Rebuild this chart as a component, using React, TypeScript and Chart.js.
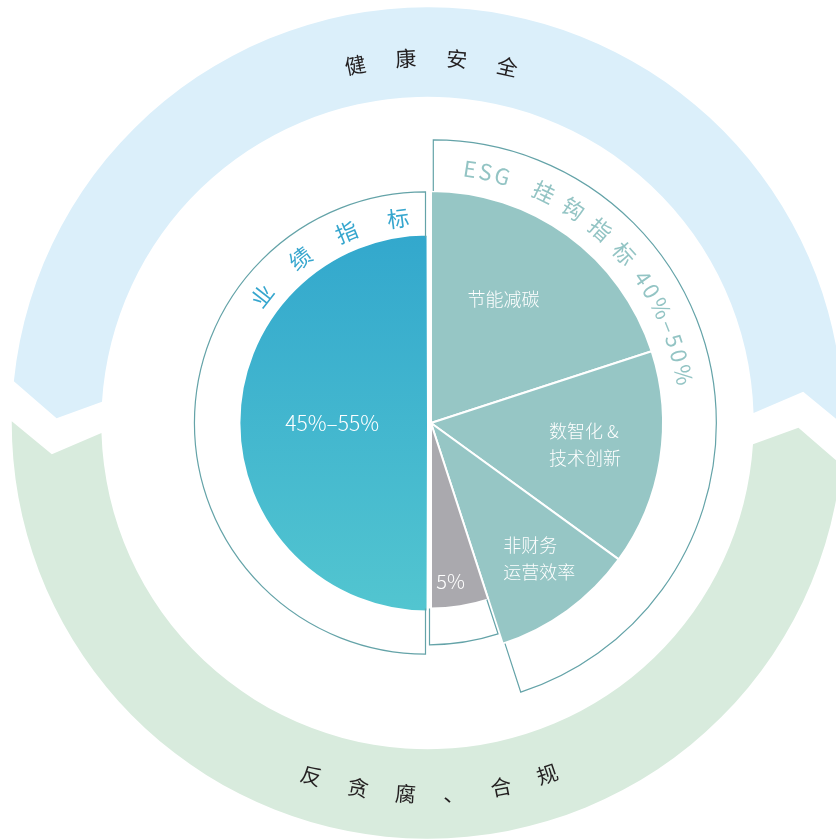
import { useEffect, useRef } from 'react';
import { Chart, registerables } from 'chart.js';

Chart.register(...registerables);

// ---------- data ----------
const sliceLabels = ['45%–55%', '节能减碳', '数智化 &\n技术创新', '非财务\n运营效率', '5%'];
const sliceShares = [50, 20, 15, 10, 5];
const sliceDepth = [4, 5, 5, 5, 4];
const performanceTitle = '业绩指标';
const esgTitleParts = ['ESG', '挂钩指标', '40%–50%'];
const ringLabels = ['健康安全', '反贪腐、合规'];
const ringShares = [50, 50];

// ---------- styles / layout ----------
const W = 836;
const H = 840;
const UNIT_PX = 46.4;
const SCALE_MAX = 405 / UNIT_PX;
const SLICE_COLORS = ['#3fb5cf', '#96c6c5', '#96c6c5', '#96c6c5', '#aaa9ae'];
const SLICE_OFFSET = [12, 0, 0, 0, 0];
const BLUE_TOP = '#33a8cd';
const BLUE_BOTTOM = '#52c5d0';
const OUTLINE_COLOR = '#64a3a8';
const BLUE_TEXT = '#36a6ce';
const ESG_TEXT = '#93c4c4';
const RING_COLORS = ['#dbeffa', '#d8ebdd'];
const RING_TEXT = '#231f20';
const FONT = '"Noto Sans CJK SC", "Noto Sans", sans-serif';
const RING_SHIFT_X = -3.5;
const RING_INNER = 7.03;
const RING_OUTER = 8.96;
const RING_ROTATION = 272;
const RING_GAP = 5.5;
const ARROW_DEPTH = 4;
const ARROW_TILT = 2;
const RING_TEXT_LEVEL = [7.87, 8.0];
const RING_TEXT_CENTER = [0.6, 179.7];
const RING_TEXT_STEP = [8, 7.4];
const OUTLINES = [
  { from: 0, to: 0, level: 4.98, dx: 0.5 },
  { from: 1, to: 3, level: 6.1, dx: 2.3 },
  { from: 4, to: 4, level: 4.78, dx: -1.5 },
];
const PERF_TITLE = { level: 4.45, start: -52, spacing: 31.5 };
const ESG_TITLE = { level: 5.54, layout: [
  { start: 8.7, spacing: 3 },
  { start: 26, spacing: 12 },
  { start: 55.6, spacing: 3.5 },
] };
const LABEL_ANCHORS = [[0.5, 0.5], [0.42, 0.62], [0.48, 0.67], [0.43, 0.75], [0.61, 0.86]];
const LABEL_FONT = [21, 18, 18, 18, 20];
const LINE_HEIGHT = 27;

const rad = (d: number) => (d * Math.PI) / 180;

function arcShift(el: any) {
  const o = (el.options && el.options.offset) || 0;
  const circ = el.endAngle - el.startAngle;
  const t = (o / 4) * (2 - Math.sin(Math.min(Math.PI, circ)));
  const half = (el.startAngle + el.endAngle) / 2;
  return [Math.cos(half) * t, Math.sin(half) * t];
}

function arcString(ctx: CanvasRenderingContext2D, cx: number, cy: number, r: number, text: string, firstCenter: number, spacing: number) {
  let a = firstCenter;
  let prevW: number | null = null;
  for (const ch of Array.from(text)) {
    const w = ctx.measureText(ch).width;
    if (prevW !== null) a += ((prevW / 2 + spacing + w / 2) / r) * (180 / Math.PI);
    if (ch.trim()) {
      ctx.save();
      ctx.translate(cx, cy);
      ctx.rotate(rad(a));
      ctx.fillText(ch, 0, -r);
      ctx.restore();
    }
    prevW = w;
  }
}

const decor = {
  id: 'decor',
  beforeDatasetsDraw(chart: any) {
    const sc = chart.scales.r;
    const ctx: CanvasRenderingContext2D = chart.ctx;
    const cx = sc.xCenter + RING_SHIFT_X;
    const cy = sc.yCenter;
    const rIn = sc.getDistanceFromCenterForValue(RING_INNER);
    const rOut = sc.getDistanceFromCenterForValue(RING_OUTER);
    const rMid = (rIn + rOut) / 2;
    const p = (r: number, a: number) => [cx + r * Math.sin(rad(a)), cy - r * Math.cos(rad(a))];
    let start = RING_ROTATION;
    ctx.save();
    ringShares.forEach((s, i) => {
      const span = s * 3.6;
      const a0 = start + RING_GAP / 2;
      const a1 = start + span - RING_GAP / 2;
      ctx.fillStyle = RING_COLORS[i];
      ctx.beginPath();
      let q = p(rIn, a0 - ARROW_TILT / 2);
      ctx.moveTo(q[0], q[1]);
      q = p(rMid, a0 - ARROW_DEPTH);
      ctx.lineTo(q[0], q[1]);
      q = p(rOut, a0 + ARROW_TILT / 2);
      ctx.lineTo(q[0], q[1]);
      ctx.arc(cx, cy, rOut, rad(a0 + ARROW_TILT / 2 - 90), rad(a1 + ARROW_TILT / 2 - 90), false);
      q = p(rMid + 6, a1 - ARROW_DEPTH);
      ctx.lineTo(q[0], q[1]);
      q = p(rIn, a1 - ARROW_TILT / 2);
      ctx.lineTo(q[0], q[1]);
      ctx.arc(cx, cy, rIn, rad(a1 - ARROW_TILT / 2 - 90), rad(a0 - ARROW_TILT / 2 - 90), true);
      ctx.closePath();
      ctx.fill();
      start += span;
    });
    // ring labels
    ctx.fillStyle = RING_TEXT;
    ctx.font = `400 21px ${FONT}`;
    ctx.textAlign = 'center';
    ctx.textBaseline = 'middle';
    ringLabels.forEach((label, i) => {
      const chars = Array.from(label);
      const r = sc.getDistanceFromCenterForValue(RING_TEXT_LEVEL[i]);
      const n = chars.length;
      chars.forEach((ch, k) => {
        const off = (k - (n - 1) / 2) * RING_TEXT_STEP[i];
        const mid = RING_TEXT_CENTER[i];
        const bottom = mid > 90 && mid < 270;
        const a = bottom ? mid - off : mid + off;
        ctx.save();
        ctx.translate(cx, cy);
        if (bottom) {
          ctx.rotate(rad(a - 180));
          ctx.fillText(ch, 0, r);
        } else {
          ctx.rotate(rad(a));
          ctx.fillText(ch, 0, -r);
        }
        ctx.restore();
      });
    });
    ctx.restore();
  },
  afterDatasetsDraw(chart: any) {
    const sc = chart.scales.r;
    const ctx: CanvasRenderingContext2D = chart.ctx;
    const els = chart.getDatasetMeta(0).data as any[];
    if (!els.length) return;
    ctx.save();
    // outlines
    ctx.strokeStyle = OUTLINE_COLOR;
    ctx.lineWidth = 1.2;
    OUTLINES.forEach((o) => {
      const e0 = els[o.from];
      const e1 = els[o.to];
      const [sx, sy] = arcShift(e0);
      const cx = e0.x + sx + o.dx;
      const cy = e0.y + sy;
      const rO = sc.getDistanceFromCenterForValue(o.level);
      const s = e0.startAngle;
      const e = e1.endAngle;
      ctx.beginPath();
      ctx.moveTo(cx + e0.outerRadius * Math.cos(s), cy + e0.outerRadius * Math.sin(s));
      ctx.lineTo(cx + rO * Math.cos(s), cy + rO * Math.sin(s));
      ctx.arc(cx, cy, rO, s, e, false);
      ctx.lineTo(cx + e1.outerRadius * Math.cos(e), cy + e1.outerRadius * Math.sin(e));
      ctx.stroke();
    });
    // titles along arcs
    ctx.textAlign = 'center';
    ctx.textBaseline = 'middle';
    {
      const e0 = els[0];
      const [sx, sy] = arcShift(e0);
      ctx.fillStyle = BLUE_TEXT;
      ctx.font = `400 22px ${FONT}`;
      arcString(ctx, e0.x + sx, e0.y + sy, sc.getDistanceFromCenterForValue(PERF_TITLE.level), performanceTitle, PERF_TITLE.start, PERF_TITLE.spacing);
    }
    {
      const e1 = els[1];
      ctx.fillStyle = ESG_TEXT;
      ctx.font = `400 22px ${FONT}`;
      const r = sc.getDistanceFromCenterForValue(ESG_TITLE.level);
      esgTitleParts.forEach((part, i) => {
        const l = ESG_TITLE.layout[i];
        arcString(ctx, e1.x, e1.y, r, part, l.start, l.spacing);
      });
    }
    // slice labels
    ctx.fillStyle = '#ffffff';
    els.forEach((el, i) => {
      const [sx, sy] = arcShift(el);
      const [ta, tr] = LABEL_ANCHORS[i];
      const ang = el.startAngle + (el.endAngle - el.startAngle) * ta;
      const r = el.outerRadius * tr;
      const x = el.x + sx + r * Math.cos(ang);
      const y = el.y + sy + r * Math.sin(ang);
      ctx.font = `300 ${LABEL_FONT[i]}px ${FONT}`;
      const lines = sliceLabels[i].split('\n');
      if (lines.length === 1) {
        ctx.textAlign = 'center';
        ctx.fillText(lines[0], x, y);
      } else {
        const maxW = Math.max(...lines.map((t) => ctx.measureText(t).width));
        ctx.textAlign = 'left';
        lines.forEach((t, k) => {
          ctx.fillText(t, x - maxW / 2, y + (k - (lines.length - 1) / 2) * LINE_HEIGHT);
        });
      }
    });
    ctx.restore();
  },
};

export default function App() {
  const ref = useRef<HTMLCanvasElement | null>(null);
  useEffect(() => {
    if (!ref.current) return;
    const chart = new Chart(ref.current, {
      type: 'polarArea',
      data: {
        labels: sliceLabels.map((l) => l.replace('\n', '')),
        datasets: [
          {
            data: sliceDepth,
            angle: (c: any) => sliceShares[c.dataIndex] * 3.6,
            offset: (c: any) => SLICE_OFFSET[c.dataIndex] || 0,
            backgroundColor: (c: any) => {
              const i = c.dataIndex;
              if (i === 0) {
                const sc = c.chart.scales && c.chart.scales.r;
                if (!sc || !isFinite(sc.yCenter)) return SLICE_COLORS[0];
                const rr = sc.getDistanceFromCenterForValue(sliceDepth[0]);
                const g = c.chart.ctx.createLinearGradient(0, sc.yCenter - rr, 0, sc.yCenter + rr);
                g.addColorStop(0, BLUE_TOP);
                g.addColorStop(1, BLUE_BOTTOM);
                return g;
              }
              return SLICE_COLORS[i] || SLICE_COLORS[1];
            },
            borderColor: '#ffffff',
            borderWidth: 2,
          } as any,
        ],
      },
      options: {
        responsive: false,
        animation: false,
        layout: { padding: { left: 26, top: 6, right: 0, bottom: 0 } },
        plugins: { legend: { display: false }, tooltip: { enabled: false } },
        scales: {
          r: { display: false, min: 0, max: SCALE_MAX, startAngle: 180 },
        },
      } as any,
      plugins: [decor],
    });
    return () => chart.destroy();
  }, []);
  return (
    <div style={{ position: 'absolute', left: 0, top: 0, width: W, height: H, background: '#fff' }}>
      <canvas ref={ref} width={W} height={H} style={{ display: 'block' }} />
    </div>
  );
}
